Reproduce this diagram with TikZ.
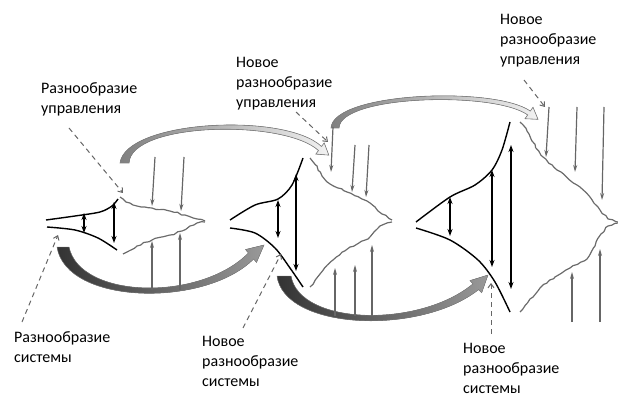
\documentclass[tikz,border=0pt]{standalone}
\usepackage{fontspec}
\setmainfont{Carlito}
\usetikzlibrary{arrows.meta,decorations.pathmorphing}

\begin{document}
\begin{tikzpicture}[x=1pt,y=-1pt,>=Stealth,
  every node/.style={font=\fontsize{16}{20}\selectfont,align=left,inner sep=0pt,anchor=north west},
  sys/.style={line width=1.4pt,black},
  ctrl/.style={line width=1.2pt,black!58,line join=round,decorate,decoration={random steps,segment length=4pt,amplitude=0.9pt}},
  gar/.style={->,line width=1.2pt,black!60,>={Stealth[length=7pt,width=4pt]}},
  bar/.style={<->,line width=1.3pt,>={Stealth[length=7pt,width=5pt]}},
  lead/.style={->,line width=1pt,black!60,dash pattern=on 5pt off 4pt,>={Straight Barb[length=4pt,width=6pt]}},
  toparc/.style={left color=black!50,right color=black!5,draw=black!50,line width=0.6pt},
  botarc/.style={left color=black!80,right color=black!40,draw=black!50,line width=0.4pt}]
\useasboundingbox (0,0) rectangle (618,398);
\pgfmathsetseed{3}

% labels
\node (ctrlA) at (41,82) {Разнообразие\\управления};
\node (ctrlB) at (236,57) {Новое\\разнообразие\\управления};
\node (ctrlC) at (500,14) {Новое\\разнообразие\\управления};
\node (sysA) at (14,331) {Разнообразие\\системы};
\node (sysB) at (202,336) {Новое\\разнообразие\\системы};
\node (sysC) at (463,343) {Новое\\разнообразие\\системы};

% block arrows
\filldraw[toparc] (120,163) .. controls (126,120) and (285,112) .. (321.5,146.5) -- (324.2,142.9) -- (328.8,155.1)
  -- (315.8,154.1) -- (318.5,150.5) .. controls (284,119) and (131,122) .. (129,163) -- cycle;
\filldraw[toparc] (331,128) .. controls (333,92) and (495,86) .. (530.3,111.1) -- (533,107.3) -- (538,119.3)
  -- (525,118.7) -- (527.7,114.9) .. controls (494,91) and (340,95) .. (339,128) -- cycle;
\filldraw[botarc] (57,247) .. controls (66,305) and (205,308) .. (253.6,259) -- (256.5,262.5) -- (264,245)
  -- (245.5,249.5) -- (248.4,253) .. controls (200,302) and (80,299) .. (69,247) -- cycle;
\filldraw[botarc] (277,276) .. controls (284,330) and (420,336) .. (478.6,289.6) -- (481.7,292.8) -- (488,275)
  -- (469.9,280.6) -- (473,283.8) .. controls (420,328) and (300,326) .. (291,276) -- cycle;

% system variety
\draw[sys] plot[smooth] coordinates {(46,220) (75,216) (100,212) (112,206) (118,199)};
\draw[sys] plot[smooth] coordinates {(47,227) (75,230) (98,238) (117,250)};
\draw[sys] plot[smooth] coordinates {(230,220) (255,205) (278,199) (292,185) (303,158)};
\draw[sys] plot[smooth] coordinates {(230,228) (255,233) (275,248) (290,268) (303,287)};
\draw[sys] plot[smooth] coordinates {(416,222) (450,197) (475,185) (492,170) (502,150) (510,122)};
\draw[sys] plot[smooth] coordinates {(416,228) (450,240) (478,260) (495,282) (510,312)};
\foreach \x/\ya/\yb in {84/213/233,114/202/243,278/200/238,296/174/271,450/197/236,492/170/267,511/145/289}
  \draw[bar] (\x,\ya) -- (\x,\yb);

% control variety
\draw[ctrl] (120,197) -- (126,202) -- (133,205) -- (152,208) -- (170,211) -- (185,215) -- (197,219) -- (205,221);
\draw[ctrl] (123,254) -- (137,246) -- (152,240) -- (170,235) -- (182,231) -- (190,226) -- (197,223) -- (205,222);
\draw[ctrl] (310,158) -- (317,166) -- (322,176) -- (330,184) -- (347,192) -- (367,201) -- (375,207) -- (382,214) -- (392,220);
\draw[ctrl] (310,287) -- (320,274) -- (333,260) -- (350,247) -- (368,239) -- (374,232) -- (380,226) -- (392,222);
\draw[ctrl] (520,122) -- (527,131) -- (532,141) -- (543,157) -- (557,170) -- (577,185) -- (590,197) -- (600,210) -- (608,219) -- (618,222);
\draw[ctrl] (520,312) -- (530,299) -- (540,288) -- (555,277) -- (570,268) -- (587,259) -- (595,246) -- (601,234) -- (608,226) -- (618,223);
\foreach \xa/\ya/\xb/\yb in {155/157/152/206,184/157/181/211,333/127/331/172,355/145/352/192,369/145/366/197,
    549/107/546/157,577/107/575/172,604/107/602/200,152/290/152/241,180/290/180/233,
    335/316/335/268,355/316/355/265,372/316/372/245,572/322/572/272,600/322/600/249}
  \draw[gar] (\xa,\ya) -- (\xb,\yb);

% leaders
\coordinate (ctrlAin) at (69,128);   \coordinate (ctrlAat) at (123,193);
\coordinate (ctrlBin) at (296,112);  \coordinate (ctrlBat) at (328,142);
\coordinate (ctrlCin) at (524,80);   \coordinate (ctrlCat) at (545,107);
\coordinate (sysAin) at (22,322);    \coordinate (sysAat) at (58,235);
\coordinate (sysBin) at (243,328);   \coordinate (sysBat) at (281,254);
\coordinate (sysCin) at (491,334);   \coordinate (sysCat) at (491,283);
\foreach \n in {ctrlA,ctrlB,ctrlC,sysA,sysB,sysC}
  \draw[lead] (\n in) -- (\n at);
\end{tikzpicture}
\end{document}
